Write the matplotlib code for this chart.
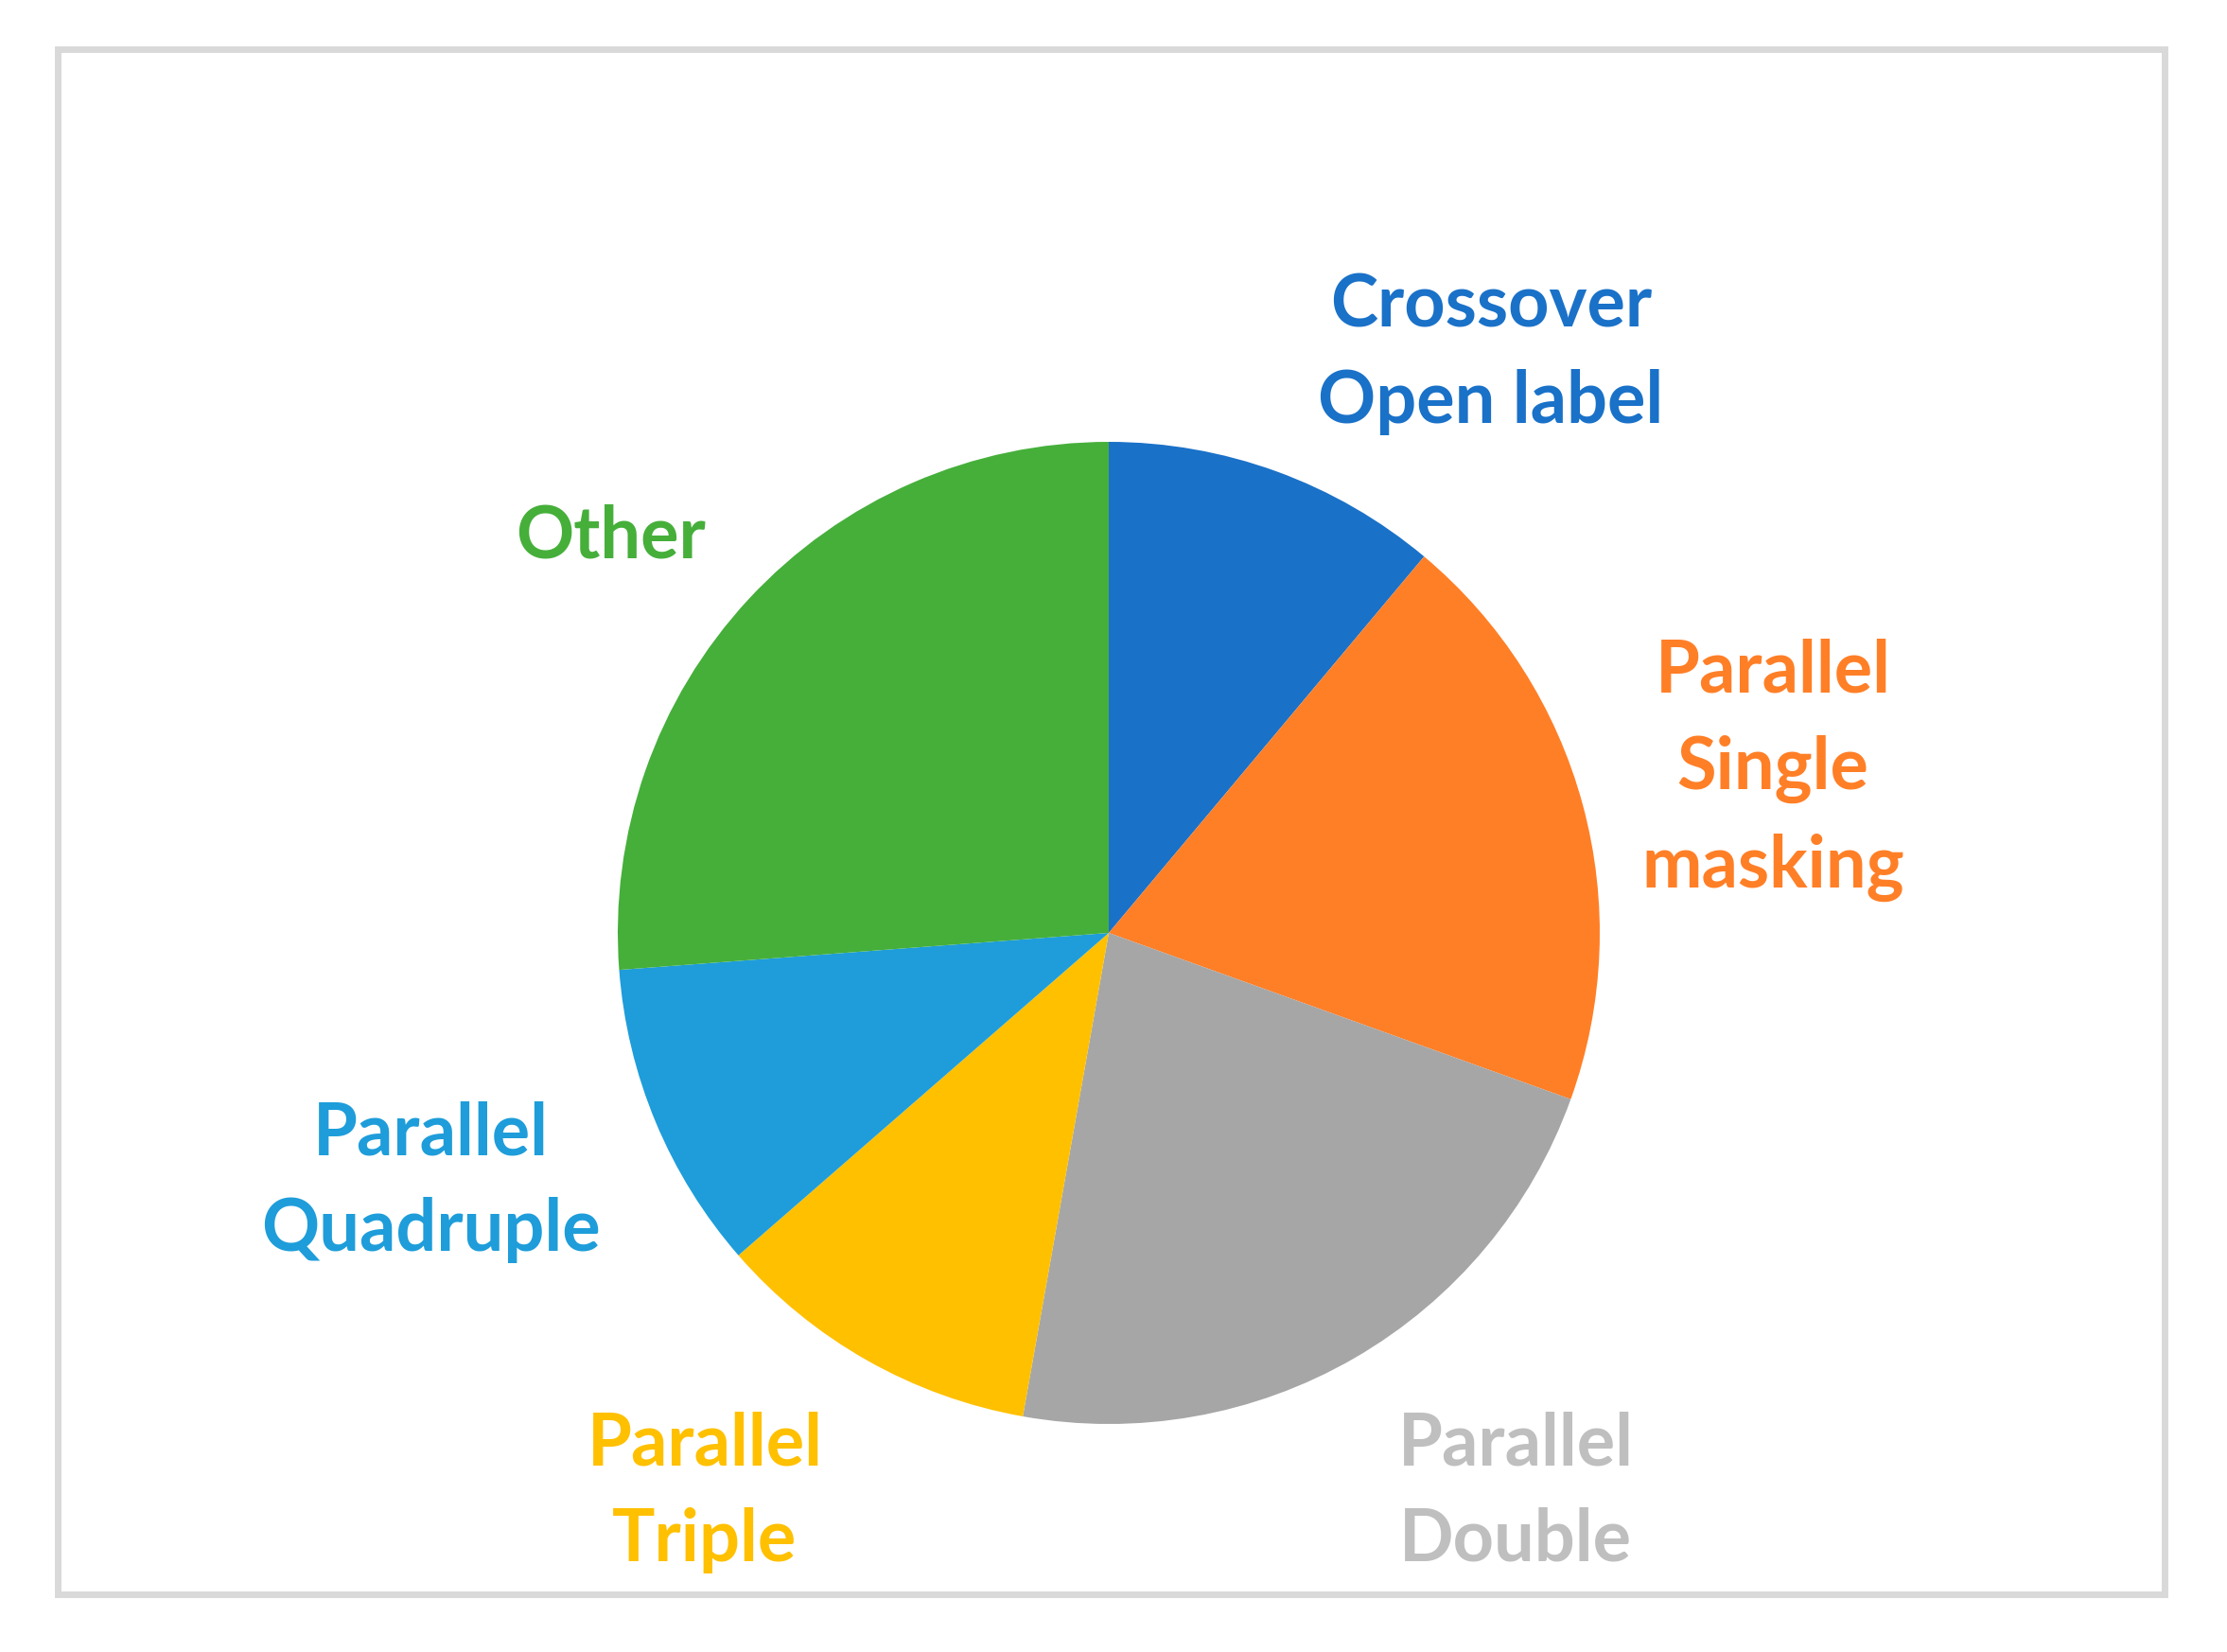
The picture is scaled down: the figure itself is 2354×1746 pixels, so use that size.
import matplotlib.pyplot as plt
from matplotlib.patches import Rectangle

plt.rcParams['font.family'] = ['Lato', 'DejaVu Sans']

labels = ['Crossover\nOpen label', 'Parallel\nSingle\nmasking', 'Parallel\nDouble',
          'Parallel\nTriple', 'Parallel\nQuadruple', 'Other']
shares = [11.1, 19.4, 22.3, 10.8, 10.2, 26.2]
slice_colors = ['#1A71C8', '#FF7F27', '#A6A6A6', '#FFC000', '#1E9DDA', '#45AF3A']
label_colors = ['#1A71C8', '#FF7F27', '#BFBFBF', '#FFC000', '#1E9DDA', '#45AF3A']

# label centres in pixel coords (origin bottom-left)
label_pos = [(1576, 1372), (1874, 932), (1602, 169), (745, 169), (455, 497), (646, 1179)]

W, H = 2354, 1746
fig = plt.figure(figsize=(W / 100, H / 100), dpi=100)
ax = fig.add_axes([0, 0, 1, 1])

# light grey chart-area border
ax.add_patch(Rectangle((61, 61), 2227, 1633, fill=False, edgecolor='#D9D9D9', linewidth=5))

ax.pie(shares, colors=slice_colors, startangle=90, counterclock=False,
       center=(1172, 760), radius=519, frame=True,
       wedgeprops={'linewidth': 0})
ax.set_xlim(0, W)
ax.set_ylim(0, H)
ax.set_aspect('equal')
ax.axis('off')

for lab, col, (x, y) in zip(labels, label_colors, label_pos):
    ax.text(x, y, lab, color=col, fontsize=54.5, fontweight='bold',
            ha='center', va='center', linespacing=1.56, multialignment='center')

fig.savefig('out.png', dpi=100)
